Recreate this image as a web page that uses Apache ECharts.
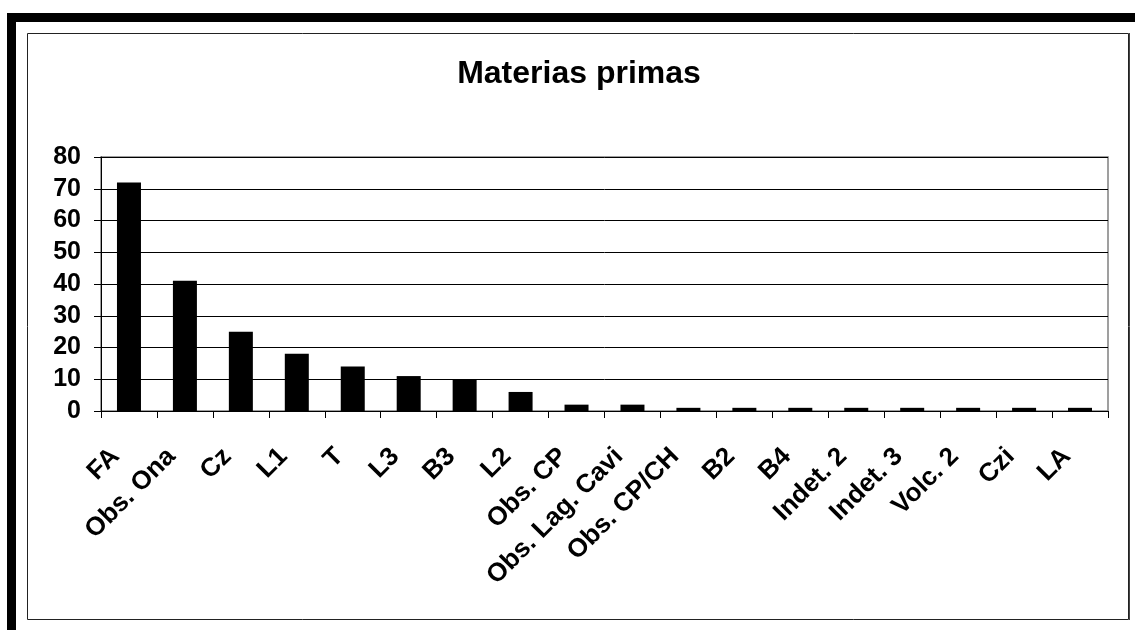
<!DOCTYPE html>
<html>
<head>
<meta charset="utf-8">
<script src="https://cdn.jsdelivr.net/npm/echarts@6/dist/echarts.min.js"></script>
<style>
html,body{margin:0;padding:0;background:#fff;}
#chart{width:1135px;height:630px;}
</style>
</head>
<body>
<div id="chart"></div>
<script>
const titleText = 'Materias primas';
const categories = ['FA','Obs. Ona','Cz','L1','T','L3','B3','L2','Obs. CP','Obs. Lag. Cavi','Obs. CP/CH','B2','B4','Indet. 2','Indet. 3','Volc. 2','Czi','LA'];
const values = [72,41,25,18,14,11,10,6,2,2,1,1,1,1,1,1,1,1];
const yTicks = {min:0, max:80, interval:10};

const chart = echarts.init(document.getElementById('chart'), null, {renderer:'canvas'});
const font = '"Liberation Sans", Arial, sans-serif';
chart.setOption({
  animation:false,
  backgroundColor:'#fff',
  title:{
    text:titleText,
    left:574, top:53, textAlign:'center',
    textStyle:{fontFamily:font, fontWeight:'bold', fontSize:32, color:'#000'}
  },
  graphic:[
    {type:'rect', shape:{x:7,y:13,width:1128,height:9}, style:{fill:'#000'}, z:10},
    {type:'rect', shape:{x:7,y:13,width:9,height:617}, style:{fill:'#000'}, z:10},
    {type:'rect', shape:{x:27.5,y:33.5,width:1101,height:586}, style:{fill:'none', stroke:'#222', lineWidth:1}, z:10},
    {type:'line', shape:{x1:1129.5,y1:33,x2:1129.5,y2:620}, style:{stroke:'#444', lineWidth:1}, z:10}
  ],
  grid:{left:101, right:27, top:157, bottom:219, show:true, borderColor:'#808080', borderWidth:1.5},
  xAxis:{
    type:'category', data:categories,
    axisLine:{lineStyle:{color:'#000', width:1}},
    axisTick:{show:true, length:7, alignWithLabel:false, lineStyle:{color:'#000'}},
    axisLabel:{interval:0, rotate:45, margin:28, padding:[0,19,0,0], fontFamily:font, fontWeight:'bold', fontSize:26, color:'#000'}
  },
  yAxis:{
    type:'value', min:yTicks.min, max:yTicks.max, interval:yTicks.interval,
    axisLine:{show:true, lineStyle:{color:'#000', width:1}},
    axisTick:{show:true, length:7, lineStyle:{color:'#000'}},
    splitLine:{show:true, lineStyle:{color:'#000', width:1}},
    axisLabel:{margin:20, fontFamily:font, fontWeight:'bold', fontSize:25, color:'#000'}
  },
  series:[{
    type:'bar', data:values, barWidth:24,
    itemStyle:{color:'#000'}
  }]
});
</script>
</body>
</html>
